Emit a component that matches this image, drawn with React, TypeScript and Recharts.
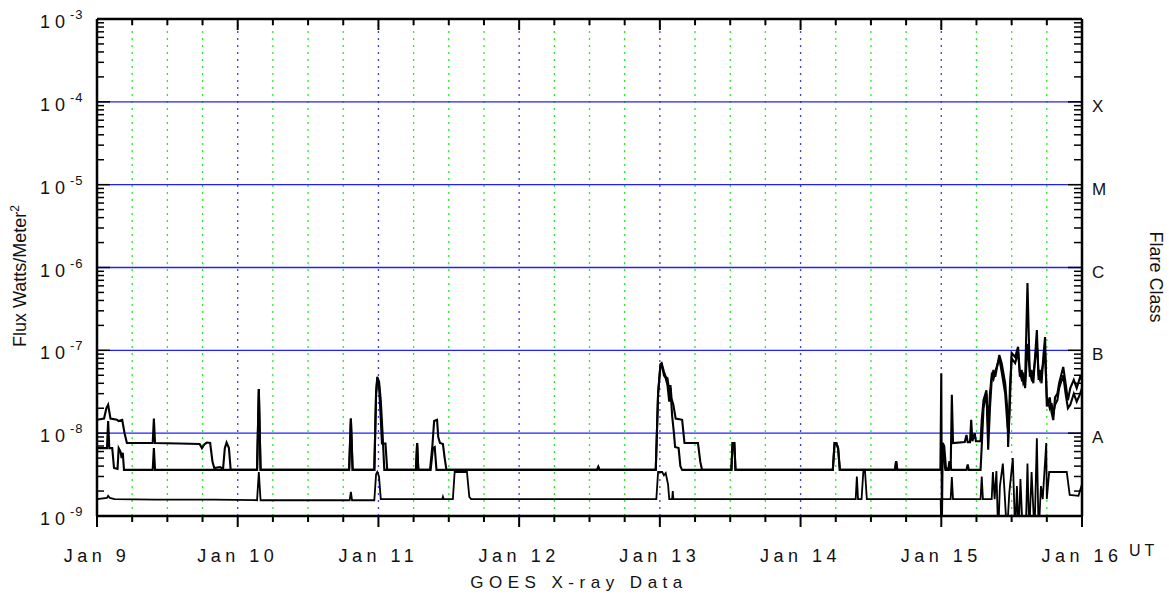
import React from 'react';
import { LineChart, Line, XAxis, YAxis, ReferenceLine } from 'recharts';

const WIDTH = 1169;
const HEIGHT = 597;
const MARGIN = { top: 19, right: 87, bottom: 51, left: 0 };
const Y_AXIS_W = 97;
const X_AXIS_H = 30;
const PLOT_W = WIDTH - MARGIN.left - MARGIN.right - Y_AXIS_W;
const PLOT_H = HEIGHT - MARGIN.top - MARGIN.bottom - X_AXIS_H;
const FONT = '"Liberation Sans", Arial, Helvetica, sans-serif';

// x axis: hours since Jan 9 00:00 UT
const X_TICKS = [0, 6, 12, 18, 24, 30, 36, 42, 48, 54, 60, 66, 72, 78, 84, 90, 96, 102, 108, 114, 120, 126, 132, 138, 144, 150, 156, 162, 168];
const DAY_LABELS = ['Jan 9', 'Jan 10', 'Jan 11', 'Jan 12', 'Jan 13', 'Jan 14', 'Jan 15', 'Jan 16'];
const DECADES = [-9, -8, -7, -6, -5, -4];
const MANTISSAS = [1, 2, 3, 4, 5, 6, 7, 8, 9];
const Y_TICKS = [...DECADES.flatMap((e) => MANTISSAS.map((m) => m * Math.pow(10, e))), 1e-3];
const FLARE_LEVELS = [1e-4, 1e-5, 1e-6, 1e-7, 1e-8];
const FLARE_CLASSES = ['X', 'M', 'C', 'B', 'A'];

// [hour, flux W/m^2]
const longA: [number, number][] = [
  [0, 1.45e-8], [1.2, 1.5e-8], [1.6, 2.0e-8], [1.9, 2.2e-8], [2.3, 1.5e-8], [3.4, 1.45e-8], [3.7, 1.4e-8],
  [4.3, 1.45e-8], [4.7, 1.0e-8], [5.1, 7.6e-9], [9.5, 7.6e-9], [9.7, 1.5e-8], [9.9, 7.6e-9], [14.0, 7.5e-9],
  [17.5, 7.4e-9], [17.9, 6.6e-9], [18.3, 7.3e-9], [18.7, 7.7e-9], [19.3, 7.6e-9], [19.7, 4.5e-9], [20.0, 3.8e-9],
  [21.0, 3.9e-9], [21.5, 3.7e-9], [21.8, 6.6e-9], [22.1, 7.7e-9], [22.5, 6.6e-9], [22.8, 3.6e-9], [27.3, 3.6e-9],
  [27.6, 3.4e-8], [27.9, 3.6e-9], [43.0, 3.6e-9], [43.3, 1.5e-8], [43.6, 3.6e-9], [47.3, 3.6e-9], [47.6, 3.0e-8],
  [47.8, 4.8e-8], [48.1, 4.2e-8], [48.4, 2.5e-8], [48.7, 1.0e-8], [49.0, 3.6e-9], [54.4, 3.6e-9], [54.6, 7.6e-9],
  [54.8, 3.6e-9], [56.8, 3.6e-9], [57.2, 7.0e-9], [57.5, 1.4e-8], [58.0, 1.45e-8], [58.2, 9.0e-9], [58.5, 7.6e-9],
  [59.0, 7.4e-9], [59.3, 5.0e-9], [59.6, 3.6e-9], [85.3, 3.6e-9], [85.5, 3.9e-9], [85.7, 3.6e-9], [95.3, 3.6e-9],
  [95.7, 3.0e-8], [96.1, 6.8e-8], [96.3, 7.0e-8], [96.7, 5.5e-8], [97.0, 4.8e-8], [97.3, 4.6e-8], [97.6, 3.2e-8],
  [97.8, 3.8e-8], [98.0, 2.6e-8], [98.3, 2.2e-8], [98.7, 1.5e-8], [99.8, 1.45e-8], [100.2, 7.6e-9], [102.5, 7.6e-9],
  [102.9, 4.5e-9], [103.2, 3.6e-9], [108.2, 3.6e-9], [108.4, 7.6e-9], [108.7, 7.6e-9], [108.9, 3.6e-9],
  [125.5, 3.6e-9], [125.8, 7.6e-9], [126.1, 7.6e-9], [126.4, 6.6e-9], [126.7, 3.6e-9], [136.1, 3.6e-9],
  [136.3, 4.6e-9], [136.5, 3.6e-9], [143.85, 3.6e-9], [144.0, 5.3e-8], [144.1, 8e-10], [144.25, 7.6e-9],
  [144.5, 7.0e-9], [144.8, 3.8e-9], [145.2, 3.7e-9], [145.4, 4.6e-9], [145.6, 3.6e-9], [145.8, 2.9e-8],
  [146.0, 7.6e-9], [148.0, 7.8e-9], [148.3, 9.5e-9], [148.5, 7.8e-9], [148.9, 7.8e-9], [149.1, 1.45e-8],
  [149.3, 8.0e-9], [149.7, 1.0e-8], [149.9, 8.0e-9], [150.7, 8.0e-9], [150.9, 1.44e-8], [151.2, 2.5e-8],
  [151.7, 3.3e-8], [152.0, 6.3e-9], [152.3, 2.0e-8], [152.6, 4.4e-8], [152.9, 5.8e-8], [153.2, 4.8e-8],
  [153.9, 8.8e-8], [154.3, 7.0e-8], [154.9, 4.0e-8], [155.3, 1.8e-8], [155.4, 6.8e-9], [155.7, 2.3e-8],
  [156.0, 9.3e-8], [156.6, 8.3e-8], [157.1, 1.1e-7], [157.4, 4.8e-8], [157.7, 5.8e-8], [158.0, 4.0e-8],
  [158.3, 4.4e-8], [158.7, 6.5e-7], [159.1, 4.8e-8], [159.4, 5.8e-8], [159.7, 4.0e-8], [160.3, 1.76e-7],
  [160.6, 4.4e-8], [160.8, 5.8e-8], [161.1, 4.0e-8], [161.4, 8.3e-8], [161.7, 1.45e-7], [162.0, 2.1e-8],
  [162.5, 2.7e-8], [162.8, 1.8e-8], [163.1, 1.44e-8], [163.4, 2.7e-8], [163.8, 3.0e-8], [164.1, 4.0e-8],
  [164.8, 6.3e-8], [165.2, 4.0e-8], [165.6, 2.5e-8], [166.0, 3.5e-8], [166.6, 4.4e-8], [167.1, 3.5e-8],
  [167.7, 4.8e-8], [168, 4.4e-8],
];

const longB: [number, number][] = [
  [0, 6.6e-9], [1.7, 6.6e-9], [1.9, 1.4e-8], [2.1, 6.6e-9], [2.6, 6.6e-9], [2.9, 3.8e-9], [3.5, 3.7e-9],
  [3.7, 6.6e-9], [4.0, 6.0e-9], [4.2, 5.0e-9], [4.4, 5.8e-9], [4.6, 3.6e-9], [9.5, 3.6e-9], [9.7, 6.6e-9],
  [9.9, 3.6e-9], [27.3, 3.6e-9], [27.6, 3.4e-8], [27.9, 3.6e-9], [43.0, 3.6e-9], [43.3, 1.5e-8], [43.6, 3.6e-9],
  [47.3, 3.6e-9], [47.6, 3.0e-8], [47.8, 4.5e-8], [48.1, 3.8e-8], [48.4, 1.5e-8], [48.6, 7.5e-9], [49.2, 7.5e-9],
  [49.5, 3.6e-9], [54.4, 3.6e-9], [54.6, 7.6e-9], [54.8, 3.6e-9], [56.9, 3.6e-9], [57.3, 6.6e-9], [57.6, 6.8e-9],
  [57.9, 3.6e-9], [85.3, 3.6e-9], [85.5, 3.9e-9], [85.7, 3.6e-9], [95.3, 3.6e-9], [95.7, 3.0e-8], [96.1, 6.6e-8],
  [96.3, 6.8e-8], [96.7, 5.0e-8], [97.0, 4.6e-8], [97.3, 3.8e-8], [97.6, 2.4e-8], [97.8, 3.5e-8], [98.1, 1.6e-8],
  [98.4, 1.0e-8], [98.6, 6.8e-9], [99.2, 6.6e-9], [99.5, 4.0e-9], [99.8, 3.6e-9], [108.2, 3.6e-9], [108.4, 7.6e-9],
  [108.7, 7.6e-9], [108.9, 3.6e-9], [125.5, 3.6e-9], [125.8, 7.6e-9], [126.1, 7.6e-9], [126.4, 6.6e-9],
  [126.7, 3.6e-9], [136.1, 3.6e-9], [136.3, 4.6e-9], [136.5, 3.6e-9], [144.0, 3.6e-9], [144.15, 7.6e-9],
  [144.4, 5.0e-9], [144.7, 3.6e-9], [145.3, 3.6e-9], [145.5, 4.5e-9], [145.7, 3.6e-9], [148.3, 3.6e-9],
  [148.5, 4.2e-9], [148.7, 3.6e-9], [150.7, 3.6e-9], [150.9, 7.0e-9], [151.2, 2.0e-8], [151.7, 3.0e-8],
  [152.0, 1.2e-8], [152.3, 3.0e-8], [152.6, 5.0e-8], [152.9, 4.5e-8], [153.2, 5.5e-8], [153.9, 8.0e-8],
  [154.3, 5.5e-8], [154.9, 3.0e-8], [155.3, 1.2e-8], [155.5, 1.0e-8], [155.7, 3.5e-8], [156.0, 8.0e-8],
  [156.6, 7.0e-8], [157.1, 9.5e-8], [157.4, 5.5e-8], [157.7, 4.5e-8], [158.0, 5.0e-8], [158.3, 3.5e-8],
  [158.7, 1.2e-7], [159.1, 5.5e-8], [159.4, 4.5e-8], [159.7, 5.0e-8], [160.3, 1.2e-7], [160.6, 5.0e-8],
  [160.8, 4.5e-8], [161.1, 5.5e-8], [161.4, 7.0e-8], [161.7, 9.0e-8], [162.0, 2.7e-8], [162.5, 2.0e-8],
  [162.8, 2.3e-8], [163.1, 1.7e-8], [163.4, 2.2e-8], [163.8, 2.5e-8], [164.1, 3.5e-8], [164.8, 5.0e-8],
  [165.2, 3.0e-8], [165.6, 2.0e-8], [166.0, 2.2e-8], [166.6, 3.0e-8], [167.1, 2.4e-8], [167.7, 3.0e-8],
  [168, 3.5e-8],
];

const shortCh: [number, number][] = [
  [0, 1.6e-9], [1.7, 1.65e-9], [1.9, 1.75e-9], [2.2, 1.65e-9], [3.0, 1.6e-9], [10, 1.58e-9], [20, 1.58e-9],
  [27.3, 1.55e-9], [27.6, 3.4e-9], [27.9, 1.55e-9], [43.1, 1.55e-9], [43.3, 1.95e-9], [43.5, 1.55e-9],
  [47.3, 1.55e-9], [47.6, 3.2e-9], [47.8, 3.4e-9], [48.1, 3.0e-9], [48.4, 1.6e-9], [58.9, 1.6e-9],
  [59.0, 1.7e-9], [59.1, 1.6e-9], [60.7, 1.6e-9], [61.0, 3.4e-9], [63.1, 3.4e-9], [63.5, 1.7e-9],
  [63.8, 1.6e-9], [95.4, 1.6e-9], [95.7, 3.4e-9], [96.4, 3.4e-9], [96.7, 3.1e-9], [97.0, 3.3e-9],
  [97.4, 2.4e-9], [97.6, 1.6e-9], [98.1, 1.6e-9], [98.2, 2.0e-9], [98.3, 1.6e-9], [129.4, 1.6e-9],
  [129.6, 3.0e-9], [129.8, 1.6e-9], [130.4, 1.6e-9], [130.7, 3.4e-9], [131.0, 3.4e-9], [131.3, 1.6e-9],
  [143.9, 1.6e-9], [144.0, 5e-10], [144.15, 1.6e-9], [145.6, 1.6e-9], [145.8, 2.95e-9], [146.0, 1.6e-9],
  [150.7, 1.6e-9], [150.9, 3.0e-9], [151.1, 1.6e-9], [152.6, 1.6e-9], [152.8, 3.4e-9], [153.1, 1.6e-9],
  [153.4, 3.5e-9], [153.7, 6e-10], [154.0, 2.3e-9], [154.5, 4.3e-9], [154.8, 1.9e-9], [155.2, 6e-10],
  [155.6, 1.9e-9], [156.2, 5.0e-9], [156.6, 6e-10], [156.9, 2.3e-9], [157.2, 6e-10], [157.5, 2.8e-9],
  [157.9, 6e-10], [158.4, 6e-10], [158.7, 4.3e-9], [159.0, 6e-10], [159.4, 3.4e-9], [159.9, 6e-10],
  [160.3, 8.7e-9], [160.6, 6e-10], [161.0, 2.3e-9], [161.3, 1.6e-9], [161.9, 7.6e-9], [162.0, 1.6e-9],
  [162.4, 3.4e-9], [165.4, 3.4e-9], [165.9, 1.8e-9], [167.4, 1.75e-9], [167.9, 2.3e-9], [168, 2.2e-9],
];

const toPoints = (arr: [number, number][]) => arr.map(([t, v]) => ({ t, v }));

const XTick = (props: any) => {
  const { x, y, payload } = props;
  const h = payload.value as number;
  const isDay = h % 24 === 0;
  const len = isDay ? 11 : 6;
  return (
    <g>
      <line x1={x} y1={y} x2={x} y2={y + len} stroke="#000" strokeWidth={2} />
      <line x1={x} y1={y - PLOT_H} x2={x} y2={y - PLOT_H + len} stroke="#000" strokeWidth={2} />
      {isDay && (
        <text x={x} y={y + 46} textAnchor="middle" fontSize={18} fontFamily={FONT} fill="#111" letterSpacing={4.5}>
          {DAY_LABELS[h / 24]}
        </text>
      )}
    </g>
  );
};

const YTick = (props: any) => {
  const { x, y, payload } = props;
  const v = payload.value as number;
  const lg = Math.log10(v);
  const decade = Math.abs(lg - Math.round(lg)) < 1e-6;
  const len = decade ? 13 : 7;
  const rlen = decade ? 14 : 8;
  return (
    <g>
      <line x1={x} y1={y} x2={x + len} y2={y} stroke="#000" strokeWidth={1.5} />
      <line x1={x + PLOT_W} y1={y} x2={x + PLOT_W - rlen} y2={y} stroke="#000" strokeWidth={1.5} />
      {decade && (
        <text x={x - 57} y={y + 9} fontSize={18} fontFamily={FONT} fill="#111">
          <tspan letterSpacing={5}>10</tspan>
          <tspan dy={-9} fontSize={13} letterSpacing={1}>{String(Math.round(lg))}</tspan>
        </text>
      )}
    </g>
  );
};

const ClassLabel = (text: string) => (p: any) => {
  const vb = p.viewBox || {};
  return (
    <text x={vb.x + vb.width + 10} y={vb.y + 10} fontSize={17} fontFamily={FONT} fill="#111">
      {text}
    </text>
  );
};

export default function App() {
  return (
    <div style={{ position: 'absolute', left: 0, top: 0, width: WIDTH, height: HEIGHT, background: '#fff' }}>
      <LineChart width={WIDTH} height={HEIGHT} margin={MARGIN}>
        <XAxis
          dataKey="t"
          type="number"
          domain={[0, 168]}
          allowDataOverflow
          ticks={X_TICKS}
          interval={0}
          tickSize={0}
          tickMargin={0}
          tickLine={false}
          height={X_AXIS_H}
          axisLine={{ stroke: '#000', strokeWidth: 2.5 }}
          tick={<XTick />}
        />
        <YAxis
          type="number"
          scale="log"
          domain={[1e-9, 1e-3]}
          allowDataOverflow
          ticks={Y_TICKS}
          interval={0}
          tickSize={0}
          tickMargin={0}
          tickLine={false}
          width={Y_AXIS_W}
          axisLine={{ stroke: '#000', strokeWidth: 2.5 }}
          tick={<YTick />}
        />
        {X_TICKS.filter((h) => h > 0 && h < 168).map((h) => (
          <ReferenceLine
            key={'v' + h}
            x={h}
            stroke={h % 24 === 0 ? '#3a3aff' : '#22ee22'}
            strokeWidth={1.3}
            strokeDasharray="2 5"
          />
        ))}
        {FLARE_LEVELS.map((lv, i) => (
          <ReferenceLine
            key={'h' + lv}
            y={lv}
            stroke="#2020ff"
            strokeWidth={1.4}
            label={ClassLabel(FLARE_CLASSES[i])}
          />
        ))}
        <Line data={toPoints(shortCh)} dataKey="v" type="linear" stroke="#000" strokeWidth={1.8} dot={false} isAnimationActive={false} />
        <Line data={toPoints(longB)} dataKey="v" type="linear" stroke="#000" strokeWidth={2.1} dot={false} isAnimationActive={false} />
        <Line data={toPoints(longA)} dataKey="v" type="linear" stroke="#000" strokeWidth={2.1} dot={false} isAnimationActive={false} />
        <ReferenceLine y={1e-3} stroke="#000" strokeWidth={2.5} />
        <ReferenceLine x={168} stroke="#000" strokeWidth={2.5} />
      </LineChart>
      <svg width={WIDTH} height={HEIGHT} style={{ position: 'absolute', left: 0, top: 0, pointerEvents: 'none' }}>
        <text x={26} y={276} textAnchor="middle" fontSize={18} fontFamily={FONT} fill="#111" transform="rotate(-90 26 276)">
          Flux Watts/Meter<tspan dy={-7} fontSize={12}>2</tspan>
        </text>
        <text x={1150} y={277} textAnchor="middle" fontSize={18} fontFamily={FONT} fill="#111" transform="rotate(90 1150 277)">
          Flare Class
        </text>
        <text x={579} y={588} textAnchor="middle" fontSize={17} fontFamily={FONT} fill="#111" letterSpacing={5.5}>
          GOES X-ray Data
        </text>
        <text x={1129} y={556} fontSize={16} fontFamily={FONT} fill="#111" letterSpacing={4}>
          UT
        </text>
      </svg>
    </div>
  );
}
